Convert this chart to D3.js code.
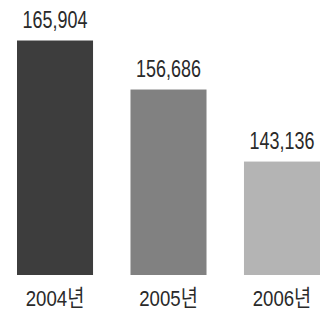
<!DOCTYPE html>
<html>
<head>
<meta charset="utf-8">
<script src="https://cdn.jsdelivr.net/npm/d3@7"></script>
<style>
  html, body { margin: 0; padding: 0; background: #fff; }
  svg { display: block; }
</style>
</head>
<body>
<svg id="chart" width="327" height="311"></svg>
<script>
const categories = ["2004년", "2005년", "2006년"];
const values = [165904, 156686, 143136];
const valueLabels = ["165,904", "156,686", "143,136"];
const barColors = ["#3d3d3d", "#818181", "#b4b4b4"];

const svg = d3.select("#chart");
const fontFamily = "'Liberation Sans', Arial, 'Noto Sans CJK KR', sans-serif";

const x = d3.scaleBand()
  .domain(categories)
  .range([17, 320])
  .paddingInner(0.33)
  .paddingOuter(0);

const baseY = 275;
const y = d3.scaleLinear()
  .domain([121800, 166000])
  .range([baseY, 40]);

svg.selectAll("rect.bar")
  .data(values)
  .enter().append("rect")
  .attr("class", "bar")
  .attr("x", (d, i) => x(categories[i]))
  .attr("width", x.bandwidth())
  .attr("y", d => y(d))
  .attr("height", d => baseY - y(d))
  .attr("fill", (d, i) => barColors[i]);

svg.selectAll("text.val")
  .data(values)
  .enter().append("text")
  .attr("class", "val")
  .attr("transform", (d, i) =>
    `translate(${x(categories[i]) + x.bandwidth() / 2},${y(d) - 13}) scale(0.78,1)`)
  .attr("text-anchor", "middle")
  .attr("font-family", fontFamily)
  .attr("font-size", 23)
  .attr("fill", "#2a2a2a")
  .text((d, i) => valueLabels[i]);

svg.selectAll("text.cat")
  .data(categories)
  .enter().append("text")
  .attr("class", "cat")
  .attr("transform", d => `translate(${x(d) + x.bandwidth() / 2},306) scale(0.81,1)`)
  .attr("text-anchor", "middle")
  .attr("font-family", fontFamily)
  .attr("font-size", 23)
  .attr("fill", "#2a2a2a")
  .text(d => d);
</script>
</body>
</html>
